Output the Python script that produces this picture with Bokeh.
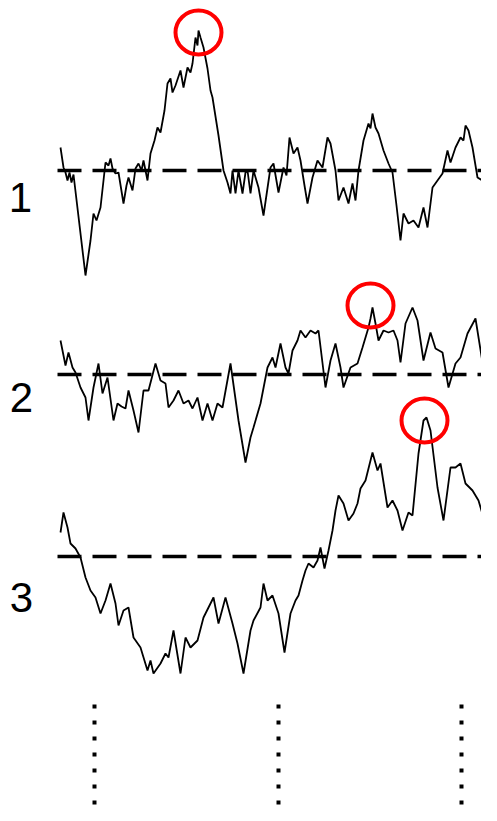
from bokeh.plotting import figure
from bokeh.models import Range1d
from bokeh.core.properties import value
from bokeh.embed import file_html
from bokeh.resources import INLINE

# Trace 1 (pixel coordinates)
x1 = [60, 63, 65, 67, 69, 71, 73, 85, 90, 93, 96, 100, 105, 108, 110, 112, 115, 118, 123, 126, 128, 132, 135, 138, 141,
      143, 147, 150, 154, 157, 160, 164, 167, 170, 172, 175, 180, 183, 187, 190, 192, 195, 197, 198, 200, 203, 207, 210,
      212, 218, 223, 227, 230, 232, 235, 238, 242, 245, 247, 250, 253, 258, 263, 270, 273, 278, 283, 286, 289, 293, 297,
      300, 304, 307, 312, 317, 322, 327, 330, 335, 338, 343, 348, 352, 355, 358, 363, 368, 370, 372, 375, 378, 383, 388,
      392, 396, 400, 403, 408, 413, 418, 423, 427, 432, 437, 442, 447, 450, 455, 460, 463, 465, 468, 472, 477, 482, 485,
      488, 490, 495, 497]
y1 = [147, 167, 172, 180, 172, 182, 174, 275, 240, 213, 220, 207, 162, 165, 158, 168, 173, 172, 203, 185, 177, 190, 168, 163, 170,
      160, 180, 153, 140, 127, 132, 110, 83, 78, 92, 85, 70, 87, 67, 72, 63, 37, 45, 30, 37, 47, 68, 90,
      97, 135, 170, 182, 193, 170, 193, 170, 193, 172, 170, 193, 170, 187, 215, 167, 163, 192, 167, 175, 137, 153, 147,
      160, 185, 203, 177, 160, 167, 137, 143, 170, 200, 187, 203, 183, 200, 170, 140, 123, 128, 113, 127, 133, 150, 163,
      172, 205, 240, 213, 223, 220, 227, 207, 227, 187, 180, 173, 150, 162, 147, 137, 140, 125, 130, 147, 177, 180, 157,
      167, 150, 170, 157]

# Trace 2
x2 = [60, 65, 68, 72, 75, 80, 85, 88, 93, 98, 102, 107, 113, 117, 121, 125, 128, 133, 138, 143, 148, 155, 160, 165, 168,
      173, 178, 183, 188, 192, 197, 202, 207, 212, 217, 222, 230, 238, 245, 250, 253, 260, 267, 272, 275, 280, 285, 288,
      292, 297, 300, 305, 310, 315, 318, 325, 330, 335, 340, 343, 350, 357, 362, 368, 370, 372, 375, 378, 383, 388, 393,
      397, 400, 405, 412, 417, 423, 430, 435, 442, 448, 455, 460, 467, 475, 482, 487, 493, 497]
y2 = [340, 365, 352, 367, 372, 387, 397, 420, 387, 363, 393, 377, 420, 403, 406, 408, 390, 410, 432, 390, 390, 363, 380, 383, 407,
      400, 390, 403, 400, 408, 397, 420, 403, 420, 403, 407, 363, 420, 462, 437, 427, 403, 367, 357, 367, 343, 367, 373,
      350, 340, 330, 337, 330, 333, 330, 387, 360, 343, 367, 387, 367, 363, 347, 327, 318, 307, 323, 340, 330, 332, 330,
      340, 362, 323, 307, 320, 360, 332, 348, 352, 387, 363, 357, 333, 318, 362, 330, 332, 337]

# Trace 3
x3 = [60, 63, 67, 70, 75, 80, 85, 90, 95, 100, 105, 110, 115, 118, 123, 128, 133, 140, 147, 150, 153, 160, 165, 168, 173,
      180, 185, 190, 197, 203, 208, 213, 218, 225, 232, 237, 243, 250, 253, 260, 263, 267, 272, 278, 284, 290, 295, 298,
      302, 305, 308, 313, 317, 320, 324, 328, 332, 335, 338, 343, 348, 353, 357, 360, 365, 372, 377, 380, 387, 392, 397,
      402, 408, 412, 418, 423, 426, 430, 437, 443, 450, 455, 460, 465, 472, 478, 483, 488, 492, 495]
y3 = [532, 512, 527, 543, 548, 557, 577, 590, 597, 613, 600, 583, 603, 625, 610, 607, 637, 647, 670, 660, 673, 663, 653, 657, 630,
      673, 637, 647, 640, 617, 607, 597, 623, 597, 623, 643, 673, 630, 620, 607, 583, 600, 595, 613, 652, 613, 600, 595,
      580, 570, 563, 567, 560, 547, 568, 550, 530, 510, 495, 503, 520, 513, 503, 488, 480, 452, 470, 463, 507, 500, 510,
      530, 512, 515, 453, 420, 417, 430, 487, 520, 467, 467, 463, 483, 490, 500, 517, 530, 513, 530]

baselines = [170, 374, 556]
labels = ["1", "2", "3"]
label_x = [20, 21, 21]
label_y = [197, 397, 597]
peak_x = [198, 370, 424]
peak_y = [32, 305, 420]
mark_x = [94, 278, 461]

p = figure(width=481, height=805, output_backend="svg", toolbar_location=None,
           x_range=Range1d(0, 481), y_range=Range1d(805, 0), min_border=0)
p.axis.visible = False
p.grid.visible = False
p.outline_line_color = None
p.background_fill_color = "white"

for xs, ys in [(x1, y1), (x2, y2), (x3, y3)]:
    p.line(xs, ys, line_color="black", line_width=1.8)

p.segment(x0=[57] * 3, y0=baselines, x1=[497] * 3, y1=baselines,
          line_color="black", line_width=3.5, line_dash="24 11")

p.ellipse(x=peak_x, y=peak_y, width=46, height=44, fill_color=None,
          line_color="#ff0000", line_width=4)

p.text(x=label_x, y=label_y, text=labels, text_font=value("Liberation Sans"),
       text_font_size="42px", text_align="center", text_baseline="middle",
       text_color="black")

p.segment(x0=mark_x, y0=[704] * 3, x1=mark_x, y1=[820] * 3,
          line_color="black", line_width=4, line_dash="4 12")

open("out.html", "w").write(file_html(p, INLINE))
